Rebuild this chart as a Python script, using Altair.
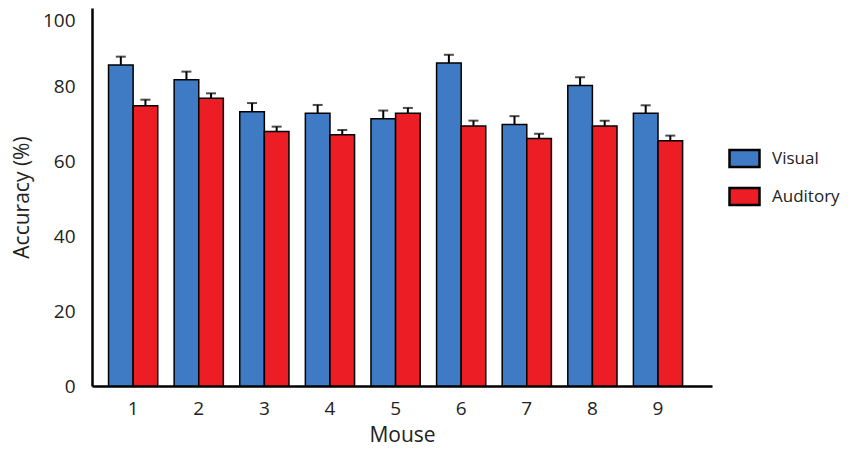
import altair as alt
import pandas as pd

mice = ["1", "2", "3", "4", "5", "6", "7", "8", "9"]
conditions = ["Visual", "Auditory"]
visual = [85.8, 81.8, 73.3, 72.9, 71.4, 86.3, 69.9, 80.3, 72.9]
visual_err = [2.2, 2.2, 2.3, 2.2, 2.2, 2.2, 2.2, 2.2, 2.1]
auditory = [74.9, 76.9, 68.0, 67.1, 72.9, 69.5, 66.1, 69.5, 65.5]
auditory_err = [1.6, 1.3, 1.3, 1.3, 1.4, 1.4, 1.3, 1.4, 1.4]
colors = ["#3F7BC4", "#EC1D25"]

rows = []
for i, m in enumerate(mice):
    rows.append({"Mouse": m, "Condition": "Visual", "Accuracy": visual[i],
                 "Top": visual[i] + visual_err[i]})
    rows.append({"Mouse": m, "Condition": "Auditory", "Accuracy": auditory[i],
                 "Top": auditory[i] + auditory_err[i]})
df = pd.DataFrame(rows)

FONT = "Open Sans"

x = alt.X("Mouse:N", sort=mice,
          scale=alt.Scale(paddingInner=0.25, paddingOuter=0.35, align=0.36),
          axis=alt.Axis(title="Mouse", labelAngle=0, ticks=False, labelPadding=13,
                        titlePadding=6, domainColor="black", domainWidth=2.5,
                        labelFontSize=19, titleFontSize=21, titleFontWeight="normal"))
xo = alt.XOffset("Condition:N", sort=conditions)
y = alt.Y("Accuracy:Q", scale=alt.Scale(domain=[0, 101], nice=False),
          axis=alt.Axis(title="Accuracy (%)", values=[0, 20, 40, 60, 80, 100],
                        ticks=False, grid=False, labelPadding=17, titlePadding=10,
                        labelOffset={"condition": {"test": "datum.value >= 100", "value": 9},
                                     "value": 0},
                        domainColor="black", domainWidth=2.5,
                        labelFontSize=19, titleFontSize=21, titleFontWeight="normal"))

color = alt.Color("Condition:N", sort=conditions,
                  scale=alt.Scale(domain=conditions, range=colors),
                  legend=alt.Legend(title=None, orient="none", legendX=641, legendY=139,
                                    symbolType="M-1.5,-0.85L1.5,-0.85L1.5,0.85L-1.5,0.85Z",
                                    symbolSize=400, symbolStrokeColor="black",
                                    symbolStrokeWidth=2.5, symbolOpacity=1,
                                    labelFontSize=17, labelOffset=16, rowPadding=11,
                                    labelLimit=200, labelColor="#222"))

bars = alt.Chart(df).mark_bar(stroke="black", strokeWidth=1.5, opacity=1).encode(
    x=x, xOffset=xo, y=y, color=color)

err = alt.Chart(df).mark_rule(color="black", strokeWidth=2).encode(
    x=alt.X("Mouse:N", sort=mice), xOffset=xo,
    y="Accuracy:Q", y2="Top:Q")

caps = alt.Chart(df).mark_tick(color="black", thickness=2, size=10, orient="horizontal").encode(
    x=alt.X("Mouse:N", sort=mice), xOffset=xo, y="Top:Q")

chart = alt.layer(bars, err, caps).properties(
    width=620, height=378,
    autosize=alt.AutoSizeParams(type="none"),
    padding={"left": 84, "top": 0, "right": 130, "bottom": 62},
).configure_view(stroke=None).configure_axis(
    labelFont=FONT, titleFont=FONT, labelColor="#222", titleColor="#222"
).configure_legend(labelFont=FONT)

chart.save("out.html", embed_options={"renderer": "svg", "actions": False})
